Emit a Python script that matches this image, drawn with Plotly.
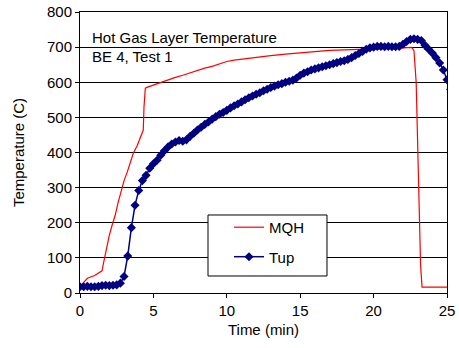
import plotly.graph_objects as go

# MQH correlation: (time in min, temperature in C)
mqh_time = [0.0, 0.3, 0.5, 1.0, 1.5, 1.6, 1.8, 2.0, 2.2, 2.4, 2.6, 2.84, 3.0, 3.2, 3.4,
            3.63, 3.9, 4.1, 4.31, 4.36, 4.45, 4.6, 5.0, 5.5, 6.0, 6.5, 7.0, 7.5, 8.0,
            8.5, 9.0, 9.5, 10.0, 10.5, 11.0, 11.5, 12.0, 12.5, 13.0, 14.0, 15.0, 16.0,
            17.0, 18.0, 19.0, 20.0, 21.0, 22.0, 22.6, 22.75, 22.9, 23.0, 23.1, 23.2,
            23.3, 24.0, 25.0, 25.3]
mqh_temp = [18, 32, 42, 50, 63, 85, 130, 165, 195, 222, 258, 298, 320, 342, 368,
            398, 420, 440, 464, 530, 583, 586, 592, 600, 607, 614, 620, 627, 633,
            640, 645, 652, 659, 663, 666, 669, 671, 673, 676, 680, 684, 688,
            691, 692, 694, 696, 697, 698, 699, 690, 600, 420, 250, 80,
            17, 17, 17, 17]

# Thermocouple tree (upper layer), sampled every 15 s
tup_temp = [18, 18, 19, 18, 18, 19, 21, 22, 21, 22, 23, 28, 47, 105, 186, 250,
            292, 320, 335, 355, 368, 378, 392, 405, 416, 424, 430, 434, 432, 436,
            446, 455, 464, 472, 480, 487, 495, 502, 509, 514, 520, 527, 533, 538,
            544, 550, 556, 561, 566, 570, 576, 580, 585, 589, 593, 596, 600, 603,
            606, 612, 620, 626, 630, 635, 638, 641, 644, 647, 650, 653, 656, 659,
            661, 665, 670, 676, 682, 688, 694, 698, 700, 702, 702, 701, 702, 701,
            701, 702, 708, 716, 722, 724, 722, 719, 705, 694, 683, 670, 655, 635,
            607, 580, 555]
tup_time = [i * 0.25 for i in range(len(tup_temp))]

x_ticks = [0, 5, 10, 15, 20, 25]
y_ticks = [0, 100, 200, 300, 400, 500, 600, 700, 800]

FONT = "Liberation Sans, Arial, sans-serif"
FS = 15

fig = go.Figure()
fig.add_trace(go.Scatter(
    x=mqh_time, y=mqh_temp, mode="lines", name="MQH",
    line=dict(color="#ff0000", width=1.2), legendgroup="a"))
fig.add_trace(go.Scatter(
    x=tup_time, y=tup_temp, mode="lines+markers", name="Tup",
    line=dict(color="#000080", width=1.5),
    marker=dict(symbol="diamond", size=7, color="#000080"), legendgroup="b"))

axis_common = dict(
    showline=True, linecolor="black", linewidth=1, mirror=True,
    ticks="outside", ticklen=4, tickcolor="black",
    tickfont=dict(family=FONT, size=FS, color="black"),
    zeroline=False, automargin=False,
)
fig.update_xaxes(range=[0, 25], tickvals=x_ticks, showgrid=False,
                 title=dict(text="Time (min)", font=dict(family=FONT, size=FS, color="black"),
                            standoff=6),
                 **axis_common)
fig.update_yaxes(range=[0, 800], tickvals=y_ticks, showgrid=True,
                 gridcolor="black", gridwidth=1,
                 title=dict(text="Temperature (C)", font=dict(family=FONT, size=FS, color="black"),
                            standoff=18),
                 **axis_common)

fig.add_annotation(x=0.027, y=0.911, xref="paper", yref="paper", xanchor="left",
                   yanchor="middle", showarrow=False, text="Hot Gas Layer Temperature",
                   font=dict(family=FONT, size=FS, color="black"))
fig.add_annotation(x=0.027, y=0.84, xref="paper", yref="paper", xanchor="left",
                   yanchor="middle", showarrow=False, text="BE 4, Test 1",
                   font=dict(family=FONT, size=FS, color="black"))

# Legend frame: white box with black border, legend entries sit inside it
fig.add_shape(type="rect", xref="paper", yref="paper",
              x0=0.3488, x1=0.673, y0=0.0605, y1=0.2776,
              fillcolor="white", line=dict(color="black", width=1), layer="above")

fig.update_layout(
    width=459, height=348,
    margin=dict(l=80, r=12, t=12, b=55),
    paper_bgcolor="white", plot_bgcolor="white",
    showlegend=True,
    legend=dict(x=0.406, y=0.292, xanchor="left", yanchor="top",
                bgcolor="rgba(0,0,0,0)", borderwidth=0,
                font=dict(family=FONT, size=FS, color="black"),
                tracegroupgap=7, traceorder="grouped"),
)

fig.write_html("out.html")
